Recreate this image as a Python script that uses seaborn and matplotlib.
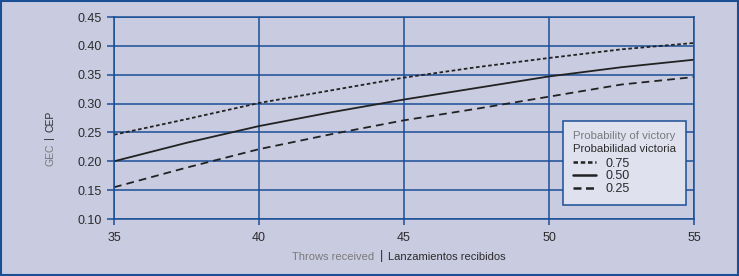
import matplotlib
matplotlib.use("Agg")
import matplotlib.pyplot as plt
import seaborn as sns
import pandas as pd
from matplotlib.lines import Line2D
from matplotlib.offsetbox import TextArea
from matplotlib.patches import Rectangle

# ---- data ----
throws = [35, 37.5, 40, 42.5, 45, 47.5, 50, 52.5, 55]
p075 = [0.246, 0.273, 0.301, 0.323, 0.345, 0.363, 0.379, 0.394, 0.405]
p050 = [0.200, 0.232, 0.261, 0.285, 0.307, 0.327, 0.347, 0.363, 0.376]
p025 = [0.155, 0.189, 0.221, 0.247, 0.271, 0.291, 0.312, 0.333, 0.346]
series_labels = ["0.75", "0.50", "0.25"]
xticks = [35, 40, 45, 50, 55]
yticks = [0.10, 0.15, 0.20, 0.25, 0.30, 0.35, 0.40, 0.45]

BG = "#c9cbe1"
BLUE = "#1a4f96"
DARK = "#2b2b2b"
GRAY = "#7a7a7a"
LINE = "#222222"

sns.set_theme(style="white")
plt.rcParams["font.family"] = ["Liberation Sans", "DejaVu Sans"]

df = pd.DataFrame({
    "x": throws * 3,
    "y": p075 + p050 + p025,
    "prob": [series_labels[0]] * len(throws) + [series_labels[1]] * len(throws) + [series_labels[2]] * len(throws),
})

fig = plt.figure(figsize=(7.39, 2.76), dpi=100, facecolor=BG)
ax = fig.add_axes([114 / 739, 1 - 219 / 276, 580 / 739, 202 / 276])
ax.set_facecolor(BG)

dashes = {"0.75": (2.0, 1.4), "0.50": "", "0.25": (4.3, 2.8)}
sns.lineplot(data=df, x="x", y="y", style="prob", dashes=dashes, color=LINE,
             linewidth=1.3, ax=ax, legend=False, style_order=series_labels)

ax.set_xlim(35, 55)
ax.set_ylim(0.10, 0.45)
ax.set_xticks(xticks)
ax.set_xticklabels([str(t) for t in xticks])
ax.set_yticks(yticks)
ax.set_yticklabels([f"{t:.2f}" for t in yticks])
ax.grid(True, color=BLUE, linewidth=1.1)
for s in ax.spines.values():
    s.set_visible(True)
    s.set_color(BLUE)
    s.set_linewidth(1.1)
ax.tick_params(axis="y", length=5, width=1.1, color=BLUE, pad=4, labelsize=9, labelcolor=DARK, left=True)
ax.tick_params(axis="x", length=4.5, width=1.1, color=BLUE, pad=5, labelsize=9, labelcolor=DARK, bottom=True)
ax.set_xlabel("")
ax.set_ylabel("")

# x label: two colored parts
ly = 1 - 257 / 276
fig.text(374 / 739, ly, "Throws received", color=GRAY, fontsize=8, ha="right", va="center")
fig.text(381 / 739, ly + 0.004, "|", color=DARK, fontsize=9, ha="center", va="center")
fig.text(388 / 739, ly, "Lanzamientos recibidos", color=DARK, fontsize=8, ha="left", va="center")

# y label: two colored parts, rotated
lx = 50 / 739
fig.text(lx, 1 - 143 / 276, "GEC", color=GRAY, fontsize=7.5, rotation=90, ha="center", va="top")
fig.text(lx - 0.002, 1 - 137.5 / 276, "|", color=DARK, fontsize=8, rotation=90, ha="center", va="center")
fig.text(lx, 1 - 132 / 276, "CEP", color=DARK, fontsize=7.5, rotation=90, ha="center", va="bottom")

# legend
handles = [Line2D([], [], color=LINE, lw=1.8, dashes=(1.8, 1.1)),
           Line2D([], [], color=LINE, lw=1.8),
           Line2D([], [], color=LINE, lw=1.8, dashes=(3.2, 1.8))]
leg = ax.legend(handles, series_labels, loc="lower right", bbox_to_anchor=(0.986, 0.069),
                borderaxespad=0, frameon=True, fancybox=False, fontsize=9,
                title="Probability of victory", title_fontsize=8.2, alignment="left",
                handlelength=1.85, handletextpad=0.75, labelspacing=0.05,
                borderpad=0.8, labelcolor=DARK)
leg.get_title().set_color(GRAY)
frame = leg.get_frame()
frame.set_facecolor("#dfe1ef")
frame.set_edgecolor(BLUE)
frame.set_linewidth(1.1)
frame.set_alpha(1)
try:
    ta = TextArea("Probabilidad victoria", textprops=dict(color=DARK, fontsize=8.2))
    leg._legend_box._children.insert(1, ta)
    leg._legend_box.sep = 2.5
    leg._legend_box.set_figure(fig)
except Exception:
    pass

# figure border
fig.patches.append(Rectangle((0.001, 0.002), 0.998, 0.996, transform=fig.transFigure,
                             fill=False, edgecolor=BLUE, linewidth=1.5))

fig.savefig("out.png", dpi=100, facecolor=BG)
